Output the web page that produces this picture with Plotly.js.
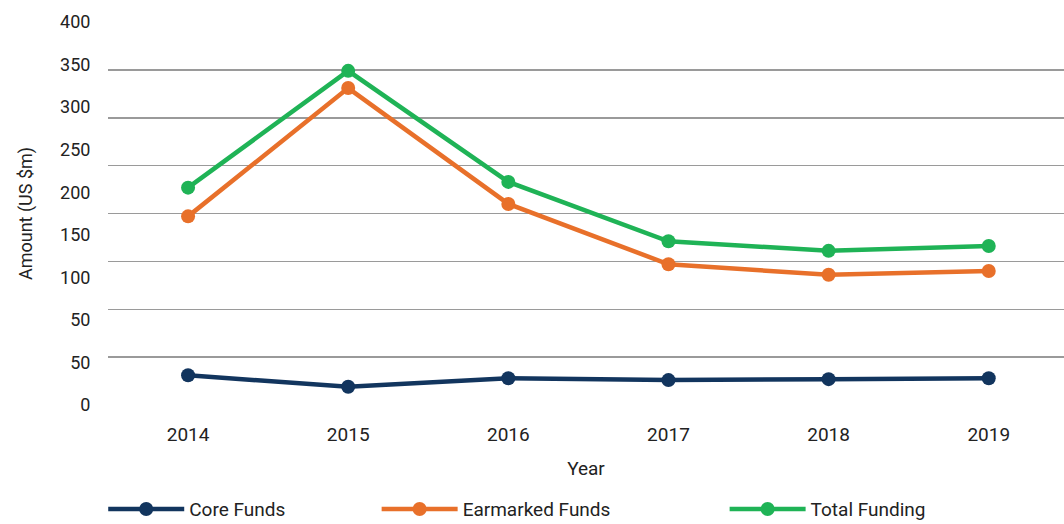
<!DOCTYPE html>
<html>
<head>
<meta charset="utf-8">
<script src="https://cdn.plot.ly/plotly-3.0.1.min.js"></script>
<style>html,body{margin:0;padding:0;background:#fff;}#chart{width:1064px;height:524px;}</style>
</head>
<body>
<div id="chart"></div>
<script>
const years = ['2014', '2015', '2016', '2017', '2018', '2019'];
const coreFunds = [31, 19, 28, 26, 27, 28];
const earmarkedFunds = [197, 331, 210, 147, 136, 140];
const totalFunding = [227, 349, 233, 171, 161, 166];
const yTickLabels = ['0', '50', '50', '100', '150', '200', '250', '300', '350', '400'];
const yTickPositions = [0, 1, 2, 3, 4, 5, 6, 7, 8, 9];

const FONT = 'Roboto, "Open Sans", sans-serif';
function series(name, y, color, legendId) {
  return {
    type: 'scatter', mode: 'lines+markers', name: name, x: years, y: y,
    line: {color: color, width: 4.5},
    marker: {color: color, size: 14},
    cliponaxis: false, legend: legendId
  };
}
const data = [
  series('Core Funds', coreFunds, '#12355e', 'legend'),
  series('Earmarked Funds', earmarkedFunds, '#e8702a', 'legend2'),
  series('Total Funding', totalFunding, '#1fb356', 'legend3'),
  {type: 'scatter', mode: 'markers', x: years.slice(0, 1), y: [0], yaxis: 'y2',
   marker: {opacity: 0}, showlegend: false, hoverinfo: 'skip'}
];
function legendAt(x) {
  return {orientation: 'h', x: x, xanchor: 'left', y: -0.272, yanchor: 'middle',
          font: {size: 19, color: '#222'}, itemwidth: 76, bgcolor: 'rgba(0,0,0,0)'};
}
const layout = {
  width: 1064, height: 524,
  margin: {l: 108, r: 0, t: 22, b: 119, autoexpand: false},
  paper_bgcolor: '#ffffff', plot_bgcolor: '#ffffff',
  font: {family: FONT, color: '#222222', size: 18},
  showlegend: true,
  legend: legendAt(-0.005),
  legend2: legendAt(0.281),
  legend3: legendAt(0.645),
  xaxis: {type: 'category', range: [-0.5, 5.47], showgrid: false, zeroline: false,
          showline: false, ticks: 'outside', ticklen: 12, tickcolor: 'rgba(0,0,0,0)',
          tickfont: {size: 19}, automargin: false,
          title: {text: 'Year', font: {size: 19}, standoff: 16}},
  yaxis: {range: [0, 400], dtick: 50, showgrid: true, gridcolor: '#9a9a9a', gridwidth: 1.5,
          zeroline: false, showticklabels: false, ticks: '', automargin: false},
  yaxis2: {overlaying: 'y', side: 'left', range: [0, 9], tickmode: 'array',
           tickvals: yTickPositions, ticktext: yTickLabels, showgrid: false,
           zeroline: false, showline: false, ticks: 'outside', ticklen: 13,
           tickcolor: 'rgba(0,0,0,0)', tickfont: {size: 18}, automargin: false,
           title: {text: 'Amount (US $m)', font: {size: 18}, standoff: 22}}
};
Plotly.newPlot('chart', data, layout, {displayModeBar: false, staticPlot: true});
</script>
</body>
</html>
